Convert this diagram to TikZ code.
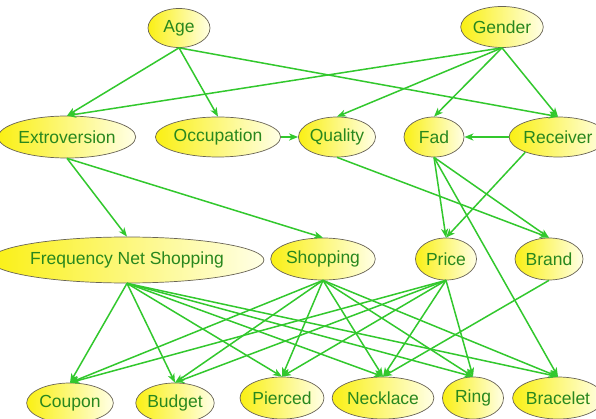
\documentclass[tikz,border=0pt]{standalone}
\usepackage{fontspec}
\setmainfont{Liberation Sans}
\usetikzlibrary{shapes.geometric,arrows.meta}
\definecolor{edgegreen}{RGB}{50,200,45}
\definecolor{textgreen}{RGB}{40,135,30}
\definecolor{nodeyellow}{RGB}{250,240,20}
\definecolor{nodemid}{RGB}{252,248,110}
\definecolor{nodepale}{RGB}{255,255,230}
\definecolor{nodeborder}{RGB}{105,100,85}
\begin{document}
\begin{tikzpicture}[x=1pt,y=-1pt,
  bn/.style={ellipse, draw=nodeborder, line width=0.7pt, left color=nodeyellow, middle color=nodemid, right color=nodepale,
    text=textgreen, font=\fontsize{17.5}{20}\selectfont, inner sep=0pt},
  edge/.style={draw=edgegreen, line width=1.5pt, -{Stealth[length=9pt,width=7pt,inset=2.5pt]}}
]
\useasboundingbox (0,0) rectangle (596,419);
\fill[white] (0,0) rectangle (596,419);
% top row
\node[bn, minimum width=62pt, minimum height=39pt] (age) at (179,28) {Age};
\node[bn, minimum width=73pt, minimum height=41pt] (gen) at (502,27) {Gender};
% second row
\node[bn, minimum width=120pt, minimum height=42pt] (extro) at (67,137) {Extroversion};
\node[bn, minimum width=107pt, minimum height=40pt] (occ) at (218,137) {Occupation};
\node[bn, minimum width=69pt, minimum height=40pt] (qual) at (337,137) {Quality};
\node[bn, minimum width=60pt, minimum height=40pt] (fad) at (434,137) {Fad};
\node[bn, minimum width=88pt, minimum height=40pt] (rec) at (558,137) {Receiver};
% third row
\node[bn, minimum width=229pt, minimum height=46pt] (fns) at (127,260) {Frequency Net Shopping};
\node[bn, minimum width=95pt, minimum height=42pt] (shop) at (323,259) {Shopping};
\node[bn, minimum width=61pt, minimum height=42pt] (price) at (446,259) {Price};
\node[bn, minimum width=68pt, minimum height=42pt] (brand) at (549,259) {Brand};
% bottom row
\node[bn, minimum width=78pt, minimum height=40pt] (coupon) at (70,403) {Coupon};
\node[bn, minimum width=76pt, minimum height=40pt] (budget) at (175,403) {Budget};
\node[bn, minimum width=78pt, minimum height=42pt] (pierced) at (282,398) {Pierced};
\node[bn, minimum width=90pt, minimum height=42pt] (neck) at (383,398) {Necklace};
\node[bn, minimum width=61pt, minimum height=42pt] (ring) at (473,398) {Ring};
\node[bn, minimum width=84pt, minimum height=42pt] (brace) at (558,398) {Bracelet};
% edges
\foreach \s/\t in {age/extro, age/occ, age/rec, gen/extro, gen/qual, gen/fad, gen/rec,
  extro/fns, extro/shop, fad/price, fad/brand, fad/brace, qual/brand,
  fns/coupon, fns/budget, fns/pierced, fns/neck, fns/ring, fns/brace,
  shop/coupon, shop/budget, shop/pierced, shop/neck, shop/ring, shop/brace,
  price/coupon, price/budget, price/pierced, price/neck, price/ring,
  brand/neck}
  \draw[edge] (\s.south) -- (\t.north);
\draw[edge] (occ.east) -- (qual.west);
\draw[edge] (rec.west) -- (fad.east);
\draw[edge] (rec.205) -- (price.north);
\end{tikzpicture}
\end{document}
